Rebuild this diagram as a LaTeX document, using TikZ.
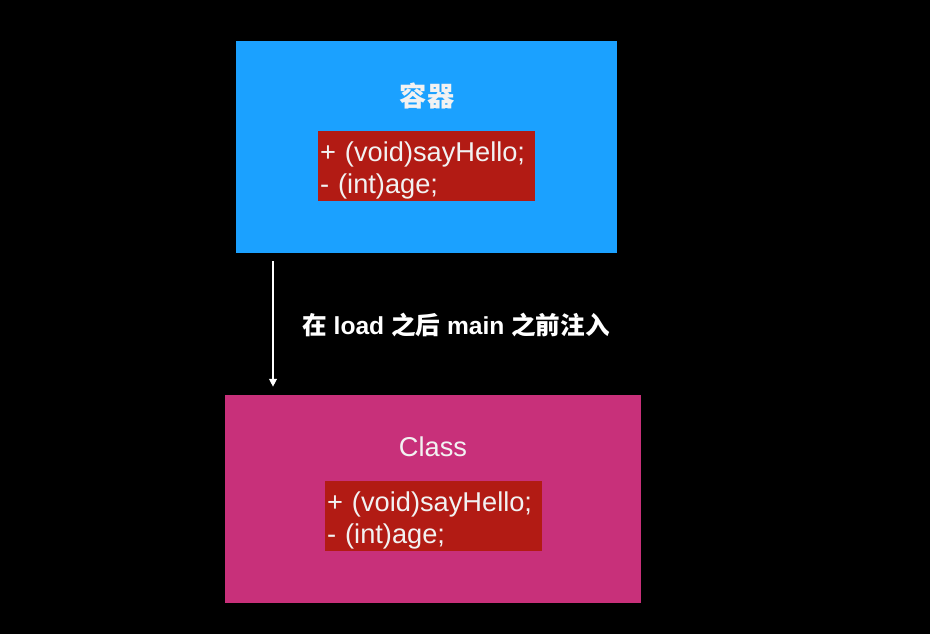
\documentclass[tikz,border=0pt]{standalone}
\usepackage{fontspec}
\setmainfont{Liberation Sans}
\newfontfamily\cjk{Noto Sans CJK SC}
\usepackage{xcolor}
\usetikzlibrary{arrows.meta, positioning}

\definecolor{boxblue}{HTML}{1BA1FF}
\definecolor{boxpink}{HTML}{C8307A}
\definecolor{memred}{HTML}{B21B14}
\definecolor{txtwhite}{HTML}{F2F2F2}

\newcommand{\memberlines}{\rule{0pt}{16pt}+ (void)sayHello;\\- (int)age;}

\begin{document}
\begin{tikzpicture}[
  x=0.02cm, y=-0.02cm,
  panel/.style={inner sep=0pt, minimum width=#1*0.02cm},
  members/.style={fill=memred, text=txtwhite, inner xsep=0.04cm, inner ysep=0pt,
                  text width=4.26cm, minimum height=1.4cm, align=left,
                  font=\fontsize{15.5}{18}\selectfont},
  title/.style={text=txtwhite, font=\fontsize{15.5}{18}\selectfont},
  arr/.style={-{Triangle[length=4.5pt, width=4.5pt]}, white, line width=0.75pt}
]
% background and bounds
\fill[black] (0,0) rectangle (930,634);
\useasboundingbox (0,0) rectangle (930,634);

% container box
\node[fill=boxblue, panel=381, minimum height=4.24cm] (container) at (426.5,147) {};
\node[title] (containertitle) at (427,96) {\cjk\bfseries 容器};
\node[members] (containermembers) at (426.5,166) {\memberlines};

% class box
\node[fill=boxpink, panel=416, minimum height=4.16cm] (cls) at (433,499) {};
\node[title] (clstitle) at (433,447) {Class};
\node[members] (clsmembers) at (433.5,516) {\memberlines};

% injection arrow
\coordinate (arrowx) at (273,0);
\draw[arr, shorten <=0.16cm, shorten >=0.16cm] (container.south -| arrowx) -- (cls.north -| arrowx);
\node[text=white, font=\fontsize{14}{16}\selectfont\bfseries] (inject) at (456,325)
  {{\cjk\bfseries 在} load {\cjk\bfseries 之后} main {\cjk\bfseries 之前注入}};
\end{tikzpicture}
\end{document}
